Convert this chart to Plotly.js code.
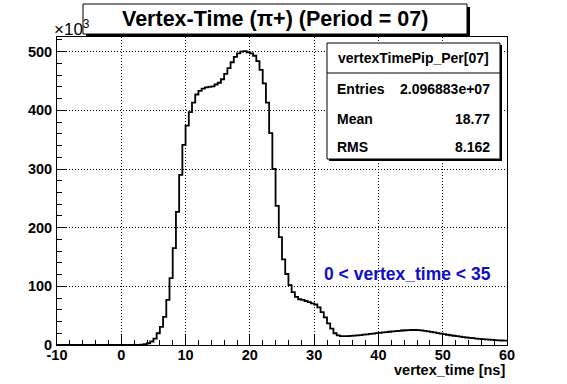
<!DOCTYPE html>
<html>
<head>
<meta charset="utf-8">
<script src="https://cdn.plot.ly/plotly-3.0.1.min.js"></script>
<style>html,body{margin:0;padding:0;background:#fff;}#chart{width:567px;height:384px;}</style>
</head>
<body>
<div id="chart"></div>
<script>
// Histogram definition: 140 bins of 0.5 ns from -10 to 60 ns
const xMin = -10;
const binWidth = 0.5;
// Bin contents in units of 10^3 entries
const countsK = [
  0,0,0,0,0,0,0,0,0,0, 0,0,0,0,0,0,0,0,0,0, 0,0,0,0,0,0,
  0.5,1.5,3,6,11,20,31,48,77,114,
  165,227,290,341,374,397,413,427,433,437,
  439,440,441,444,447,453,462,472,482,491,
  497,500,501,499,497,493,484,469,446,413,
  361,300,237,184,146,121,102,90,82,78,
  77,75,73,71,69,64,56,47,37,28,
  20,16.5,15,15,
  15.2,15.5,16,16.5,17,17.6,18.2,18.9,19.5,20.2,
  20.8,21.4,22,22.6,23.2,23.7,24.2,24.7,25.1,25.4,
  25.6,25.6,25.3,24.8,24.1,23.3,22.4,21.4,20.4,19.4,
  18.4,17.5,16.6,15.8,15,14.2,13.5,12.8,12.2,11.6,
  11,10.5,10,9.6,9.2,8.8,8.4,8.0,7.7,7.4
];
const xTickVals = [-10,0,10,20,30,40,50,60];
const xTickText = ["-10","0","10","20","30","40","50","60"];
const yTickVals = [0,100,200,300,400,500];
const yTickText = ["0","100","200","300","400","500"];

const titleText = "Vertex-Time (\u03c0+) (Period = 07)";
const statsName = "vertexTimePip_Per[07]";
const statsLabels = ["Entries","Mean","RMS"];
const statsValues = ["2.096883e+07","18.77","8.162"];
const cutText = "0 < vertex_time < 35";
const xAxisTitle = "vertex_time [ns]";
const yScaleText = "\u00d710<sup>3</sup>";

// step outline from bin edges
const xs = [], ys = [];
for (let i = 0; i < countsK.length; i++) { xs.push(xMin + i*binWidth); ys.push(countsK[i]); }
xs.push(xMin + countsK.length*binWidth); ys.push(countsK[countsK.length-1]);

const FONT = "Liberation Sans, Arial, Helvetica, sans-serif";
// pixel -> paper helpers (plot frame: x 57..507, y 37..345)
const L = 57, R = 507, T = 37, B = 345;
const px = v => (v - L)/(R - L);
const py = v => (B - v)/(B - T);

const trace = {
  x: xs, y: ys, type: 'scatter', mode: 'lines',
  line: {shape: 'hv', color: '#000', width: 1.8},
  hoverinfo: 'skip', showlegend: false
};

const axisCommon = {
  showline: true, linecolor: '#000', linewidth: 1, mirror: true,
  ticks: 'inside', tickcolor: '#000', tickwidth: 1,
  showgrid: true, gridcolor: '#000', gridwidth: 1, griddash: '1px,2px',
  zeroline: false,
  tickfont: {family: FONT, size: 14.5, weight: 'bold', color: '#000'}
};

const shapes = [
  // title box shadow + box
  {type:'rect', xref:'paper', yref:'paper', x0:px(86), x1:px(470), y0:py(7), y1:py(37), fillcolor:'#000', line:{width:0}, layer:'above'},
  {type:'rect', xref:'paper', yref:'paper', x0:px(83), x1:px(467), y0:py(4), y1:py(34), fillcolor:'#fff', line:{color:'#000', width:1}, layer:'above'},
  // stats box shadow + box
  {type:'rect', xref:'paper', yref:'paper', x0:px(329), x1:px(502), y0:py(45), y1:py(161), fillcolor:'#000', line:{width:0}, layer:'above'},
  {type:'rect', xref:'paper', yref:'paper', x0:px(327), x1:px(500), y0:py(43), y1:py(159), fillcolor:'#fff', line:{color:'#000', width:1}, layer:'above'},
  {type:'line', xref:'paper', yref:'paper', x0:px(327), x1:px(500), y0:py(73), y1:py(73), line:{color:'#000', width:1}, layer:'above'}
];

const annotations = [
  {text: titleText, xref:'paper', yref:'paper', x:px(275), y:py(19), xanchor:'center', yanchor:'middle', showarrow:false,
   font:{family: FONT, size: 21.5, weight:'bold', color:'#000'}},
  {text: statsName, xref:'paper', yref:'paper', x:px(413), y:py(58), xanchor:'center', yanchor:'middle', showarrow:false,
   font:{family: FONT, size: 14, weight:'bold', color:'#000'}},
  {text: yScaleText, xref:'paper', yref:'paper', x:px(52), y:py(28), xanchor:'left', yanchor:'middle', showarrow:false,
   font:{family: FONT, size: 17, color:'#000'}},
  {text: cutText, xref:'paper', yref:'paper', x:px(407), y:py(274), xanchor:'center', yanchor:'middle', showarrow:false,
   font:{family: FONT, size: 17.5, weight:'bold', color:'#1010c8'}},
  {text: xAxisTitle, xref:'paper', yref:'paper', x:px(507), y:py(370), xanchor:'right', yanchor:'middle', showarrow:false,
   font:{family: FONT, size: 14.5, weight:'bold', color:'#000'}}
];
const rowsY = [89, 119, 147];
for (let i = 0; i < statsLabels.length; i++) {
  annotations.push({text: statsLabels[i], xref:'paper', yref:'paper', x:px(335), y:py(rowsY[i]), xanchor:'left', yanchor:'middle', showarrow:false,
    font:{family: FONT, size: 14, weight:'bold', color:'#000'}});
  annotations.push({text: statsValues[i], xref:'paper', yref:'paper', x:px(492), y:py(rowsY[i]), xanchor:'right', yanchor:'middle', showarrow:false,
    font:{family: FONT, size: 14, weight:'bold', color:'#000'}});
}

const layout = {
  width: 567, height: 384,
  margin: {l: L, r: 567 - R, t: T, b: 384 - B, pad: 0},
  paper_bgcolor: '#fff', plot_bgcolor: '#fff',
  showlegend: false,
  xaxis: Object.assign({}, axisCommon, {
    range: [-10, 60], tickvals: xTickVals, ticktext: xTickText, ticklen: 10,
    ticklabelstandoff: -3,
    minor: {ticks: 'inside', dtick: 2, tick0: 0, ticklen: 5, tickcolor: '#000', showgrid: false}
  }),
  yaxis: Object.assign({}, axisCommon, {
    range: [0, 525], tickvals: yTickVals, ticktext: yTickText, ticklen: 10,
    ticklabelstandoff: 1,
    minor: {ticks: 'inside', dtick: 20, tick0: 0, ticklen: 5, tickcolor: '#000', showgrid: false}
  }),
  shapes: shapes,
  annotations: annotations
};

Plotly.newPlot('chart', [trace], layout, {staticPlot: true, displayModeBar: false});
</script>
</body>
</html>
